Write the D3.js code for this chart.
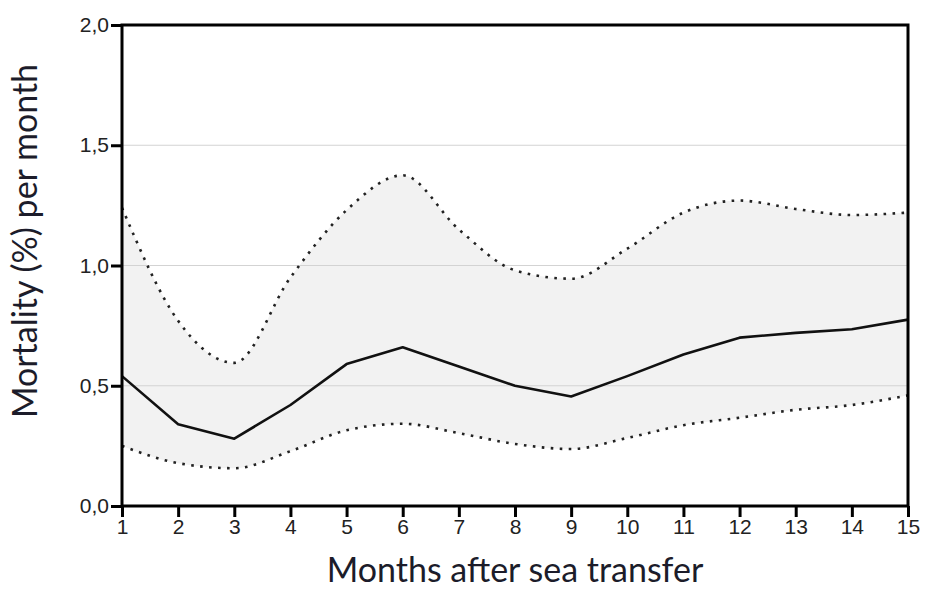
<!DOCTYPE html>
<html>
<head>
<meta charset="utf-8">
<script src="https://cdn.jsdelivr.net/npm/d3@7"></script>
<style>
  body { margin: 0; background: white; }
  .tick text { font-family: 'Liberation Sans', Arial, sans-serif; font-size: 21px; fill: #222; }
</style>
</head>
<body>
<div id="container"></div>
<script>
/* DATA */
const months = [1, 2, 3, 4, 5, 6, 7, 8, 9, 10, 11, 12, 13, 14, 15];
const mortality = [0.54, 0.34, 0.28, 0.42, 0.59, 0.66, 0.58, 0.50, 0.455, 0.54, 0.63, 0.70, 0.72, 0.735, 0.775];
const upper = [1.24, 0.77, 0.595, 0.95, 1.23, 1.375, 1.15, 0.98, 0.945, 1.07, 1.22, 1.27, 1.235, 1.21, 1.22];
const lower = [0.25, 0.178, 0.157, 0.228, 0.315, 0.342, 0.303, 0.258, 0.237, 0.283, 0.336, 0.367, 0.40, 0.42, 0.46];
const yTicks = [0, 0.5, 1.0, 1.5, 2.0];

/* CONSTANTS */
const width = 925;
const height = 590;
const margin = { left: 122, right: 17, top: 25, bottom: 84 };

const svg = d3.select("#container")
    .append("svg")
    .attr("width", width)
    .attr("height", height);

// SCALES
const x = d3.scaleLinear()
    .domain([1, 15])
    .range([margin.left, width - margin.right]);

const y = d3.scaleLinear()
    .domain([0, 2])
    .range([height - margin.bottom, margin.top]);

const rows = months.map((m, i) => ({ m, v: mortality[i], hi: upper[i], lo: lower[i] }));

// CONFIDENCE BAND
svg.append("path")
    .datum(rows)
    .attr("fill", "#f2f2f2")
    .attr("d", d3.area()
        .curve(d3.curveMonotoneX)
        .x(d => x(d.m))
        .y0(d => y(d.lo))
        .y1(d => y(d.hi)));

// GRIDLINES
svg.selectAll(".grid")
    .data(yTicks.filter(t => t > 0 && t < 2))
    .join("line")
    .attr("class", "grid")
    .attr("x1", x(1))
    .attr("x2", x(15))
    .attr("y1", d => y(d))
    .attr("y2", d => y(d))
    .attr("stroke", "#d3d3d3")
    .attr("stroke-width", 1.2);

// DOTTED BOUNDS
[upper, lower].forEach(series => {
    svg.append("path")
        .datum(series)
        .attr("fill", "none")
        .attr("stroke", "#222")
        .attr("stroke-width", 2.6)
        .attr("stroke-dasharray", "2.6,6.4")
        .attr("d", d3.line()
            .curve(d3.curveMonotoneX)
            .x((d, i) => x(months[i]))
            .y(d => y(d)));
});

// MAIN LINE
svg.append("path")
    .datum(mortality)
    .attr("fill", "none")
    .attr("stroke", "#111")
    .attr("stroke-width", 2.6)
    .attr("stroke-linejoin", "round")
    .attr("d", d3.line()
        .x((d, i) => x(months[i]))
        .y(d => y(d)));

// FRAME
svg.append("rect")
    .attr("x", x(1))
    .attr("y", y(2))
    .attr("width", x(15) - x(1))
    .attr("height", y(0) - y(2))
    .attr("fill", "none")
    .attr("stroke", "black")
    .attr("stroke-width", 3);

// AXES
const fmt = d => d3.format(".1f")(d).replace(".", ",");

const yAxis = svg.append("g")
    .attr("transform", `translate(${x(1)},0)`)
    .call(d3.axisLeft(y).tickValues(yTicks).tickFormat(fmt).tickSize(11).tickPadding(2));

const xAxis = svg.append("g")
    .attr("transform", `translate(0,${y(0)})`)
    .call(d3.axisBottom(x).tickValues(months).tickFormat(d3.format("d")).tickSize(11).tickPadding(2));

[yAxis, xAxis].forEach(g => {
    g.attr("font-size", 21).attr("font-family", "'Liberation Sans', Arial, sans-serif");
    g.select(".domain").remove();
    g.selectAll(".tick line").attr("stroke", "black").attr("stroke-width", 3);
});

// AXIS TITLES
svg.append("text")
    .attr("x", (x(1) + x(15)) / 2)
    .attr("y", 582)
    .attr("text-anchor", "middle")
    .attr("fill", "#1c1c2a")
    .style("font-family", "Lato, 'Open Sans', sans-serif")
    .style("font-size", "34px")
    .text("Months after sea transfer");

svg.append("text")
    .attr("transform", `translate(37,241) rotate(-90)`)
    .attr("text-anchor", "middle")
    .attr("fill", "#1c1c2a")
    .style("font-family", "Lato, 'Open Sans', sans-serif")
    .style("font-size", "34px")
    .text("Mortality (%) per month");
</script>
</body>
</html>
